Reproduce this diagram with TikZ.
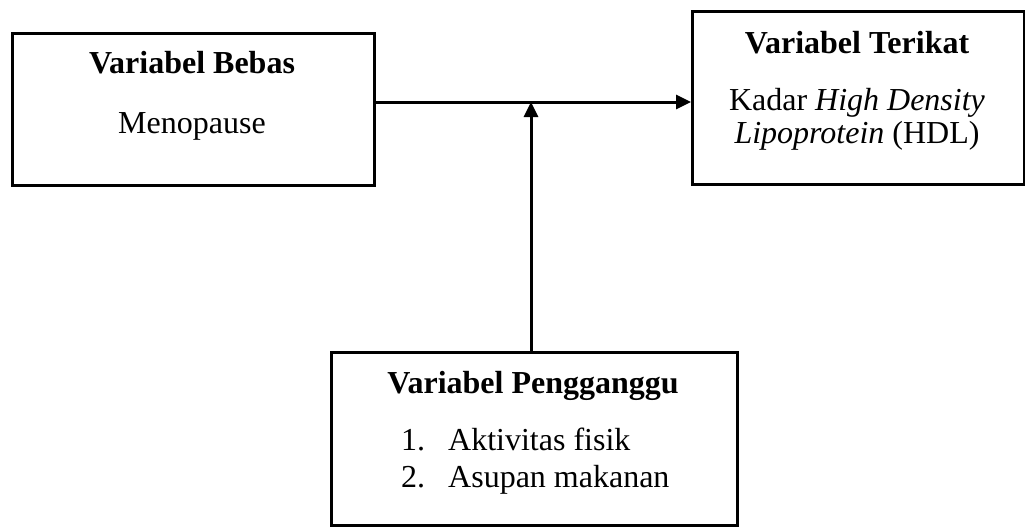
\documentclass[tikz,border=0pt]{standalone}
\usepackage{fontspec}
\setmainfont{Liberation Serif}
\usetikzlibrary{arrows.meta}
\begin{document}
\begin{tikzpicture}[x=1pt,y=-1pt,
  box/.style={draw,line width=3pt,inner sep=0pt,anchor=north west},
  lbl/.style={anchor=base,inner sep=0pt,font=\fontsize{32}{37}\selectfont},
  conn/.style={line width=3pt,-{Triangle[length=15pt,width=14pt]}}]
\useasboundingbox (0,0) rectangle (1025,527);
\node[box,minimum width=362pt,minimum height=152pt] (lb) at (11,32) {};
\node[box,minimum width=332pt,minimum height=173pt] (rb) at (691,10) {};
\node[box,minimum width=406pt,minimum height=173pt] (bb) at (330,351) {};
\node[lbl] (lt) at (192,74) {\textbf{Variabel Bebas}};
\node[lbl] (lm) at (192,133) {Menopause};
\node[lbl] (rt) at (857,53) {\textbf{Variabel Terikat}};
\node[lbl] (r1) at (857,110) {Kadar \textit{High Density}};
\node[lbl] (r2) at (857,143) {\textit{Lipoprotein} (HDL)};
\node[lbl] (bt) at (533,393) {\textbf{Variabel Pengganggu}};
\node[lbl,anchor=base west] (n1) at (401,450) {1.};
\node[lbl,anchor=base west] (i1) at (448,450) {Aktivitas fisik};
\node[lbl,anchor=base west] (n2) at (401,487) {2.};
\node[lbl,anchor=base west] (i2) at (448,487) {Asupan makanan};
\coordinate (j) at (531,102);
\draw[conn] (lb.east |- j) -- (rb.west |- j);
\draw[conn] (bb.north -| j) -- (j);
\end{tikzpicture}
\end{document}
